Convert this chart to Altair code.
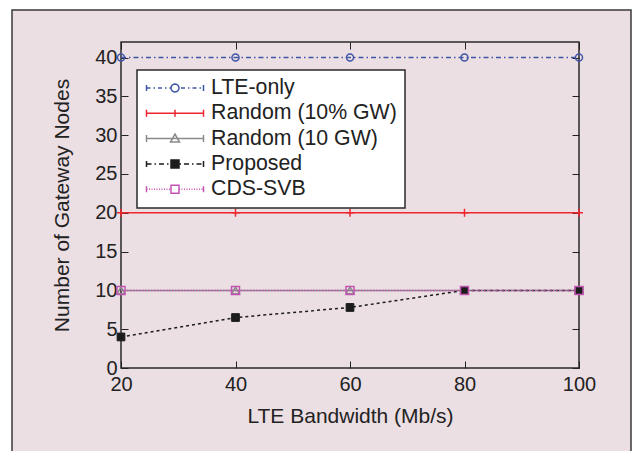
import altair as alt
import pandas as pd
import math

# ---------------- data ----------------
bandwidth = [20, 40, 60, 80, 100]
series_names = ["LTE-only", "Random (10% GW)", "Random (10 GW)", "Proposed", "CDS-SVB"]
lte_only = [40, 40, 40, 40, 40]
random_pct = [20, 20, 20, 20, 20]
random_10 = [10, 10, 10, 10, 10]
proposed = [4, 6.5, 7.8, 10, 10]
cds_svb = [10, 10, 10, 10, 10]
y_ticks = [0, 5, 10, 15, 20, 25, 30, 35, 40]

values_by_series = [lte_only, random_pct, random_10, proposed, cds_svb]
rows = []
for name, vals in zip(series_names, values_by_series):
    for xv, yv in zip(bandwidth, vals):
        rows.append({"bw": xv, "nodes": yv, "series": name})
df = pd.DataFrame(rows)

# ---------------- styles ----------------
colors = ["#3f56a8", "#ee2630", "#8a8a8a", "#1c1c1c", "#c454b4"]
dashes = [[5, 3, 1.5, 3], [1, 0], [1, 0], [3, 3], [1.5, 1.5]]
FONT = "Liberation Sans"
TXT = "#222222"

PLUS = "M-1,0H1M0,-1V1"
marker_shapes = ["circle", PLUS, "triangle-up", "square", "square"]
marker_sizes = [50, 64, 60, 60, 64]
marker_filled = [False, False, False, True, False]

# legend glyphs (line sample + marker), in symbol units
U = 29.0


def f(v):
    return f"{v / U:.4f}"


def seg(x1, x2, y=0.0):
    return f"M{f(x1)},{f(y)}H{f(x2)}"


def caps(h=3.5):
    return f"M{f(-28.5)},{f(-h)}V{f(h)}M{f(28.5)},{f(-h)}V{f(h)}"


def dashed(pattern, skip=4.5):
    out = []
    x = -28.5
    i = 0
    on = True
    while x < 28.5:
        L = pattern[i % len(pattern)]
        x2 = min(x + L, 28.5)
        if on:
            a, b = x, x2
            if b > -skip and a < skip:
                if a < -skip:
                    out.append(seg(a, -skip))
                if b > skip:
                    out.append(seg(skip, b))
            else:
                out.append(seg(a, b))
        x = x2
        on = not on
        i += 1
    return "".join(out)


def poly(points):
    return "M" + "L".join(f"{f(px)},{f(py)}" for px, py in points) + "Z"


circle_pts = [(4 * math.cos(2 * math.pi * k / 20), 4 * math.sin(2 * math.pi * k / 20)) for k in range(20)]
tri_pts = [(0, -4.5), (4.5, 3.5), (-4.5, 3.5)]
sq_pts = [(-4, -4), (4, -4), (4, 4), (-4, 4)]
hatch = "".join(seg(-4, 4, yy) for yy in [-3.5, -2.5, -1.5, -0.5, 0.5, 1.5, 2.5, 3.5])

legend_paths = [
    dashed([4, 3, 1.5, 3]) + caps(3) + poly(circle_pts),
    seg(-28.5, 28.5) + caps() + f"M0,{f(-3.5)}V{f(3.5)}",
    seg(-28.5, 28.5) + caps() + poly(tri_pts),
    dashed([5, 3, 1.5, 3]) + caps(3) + poly(sq_pts) + hatch,
    dashed([1, 1.5]) + caps(3) + poly(sq_pts),
]

# ---------------- scales / axes ----------------
xscale = alt.Scale(domain=[20, 100], nice=False, zero=False)
yscale = alt.Scale(domain=[0, 42], nice=False, zero=False)

common_axis = dict(domain=False, grid=False, tickSize=7, offset=-7, tickColor=TXT,
                   tickWidth=1, labelFont=FONT, labelFontSize=20, labelColor=TXT,
                   titleFont=FONT, titleFontSize=21, titleColor=TXT, titleFontWeight="normal",
                   labelFlush=False, labelOverlap=False)

x_bottom = alt.Axis(orient="bottom", values=bandwidth, title="LTE Bandwidth (Mb/s)",
                    labelPadding=6, titlePadding=11, **common_axis)
y_left = alt.Axis(orient="left", values=y_ticks, title="Number of Gateway Nodes",
                  labelPadding=4, titlePadding=22, **common_axis)
x_top = alt.Axis(orient="top", values=bandwidth, title=None, labels=False, **common_axis)
y_right = alt.Axis(orient="right", values=y_ticks, title=None, labels=False, **common_axis)

base = alt.Chart(df)
layers = []

# decorative page frame (outside plot area)
frame_data = alt.Data(values=[{"k": 1}])
layers.append(alt.Chart(frame_data).mark_rect(fill="white", stroke=None).encode(
    x=alt.value(-121), x2=alt.value(514), y=alt.value(-42), y2=alt.value(-32)))
layers.append(alt.Chart(frame_data).mark_rect(fill="white", stroke=None).encode(
    x=alt.value(-121), x2=alt.value(-109), y=alt.value(-42), y2=alt.value(420)))
layers.append(alt.Chart(frame_data).mark_rect(fill="white", stroke=None).encode(
    x=alt.value(510), x2=alt.value(514), y=alt.value(-42), y2=alt.value(420)))
layers.append(alt.Chart(frame_data).mark_rect(fill=None, stroke="#3a3a3a", strokeWidth=1.5).encode(
    x=alt.value(-109), x2=alt.value(510), y=alt.value(-32), y2=alt.value(470)))

for i, name in enumerate(series_names):
    sub = base.transform_filter(alt.datum.series == name)
    xa = x_bottom if i == 0 else None
    ya = y_left if i == 0 else None
    line = sub.mark_line(color=colors[i], strokeDash=dashes[i], strokeWidth=1.5).encode(
        x=alt.X("bw:Q", scale=xscale, axis=xa),
        y=alt.Y("nodes:Q", scale=yscale, axis=ya),
    )
    layers.append(line)

for i, name in enumerate(series_names):
    sub = base.transform_filter(alt.datum.series == name)
    xa = x_top if i == 0 else None
    ya = y_right if i == 0 else None
    if marker_filled[i]:
        mk = sub.mark_point(shape=marker_shapes[i], size=marker_sizes[i], filled=True,
                            fill=colors[i], stroke=colors[i], strokeWidth=1, opacity=1)
    else:
        mk = sub.mark_point(shape=marker_shapes[i], size=marker_sizes[i], filled=False,
                            stroke=colors[i], strokeWidth=1.5, opacity=1)
    layers.append(mk.encode(
        x=alt.X("bw:Q", scale=xscale, axis=xa),
        y=alt.Y("nodes:Q", scale=yscale, axis=ya),
    ))

# legend carrier (draws nothing in the plot)
legend_spec = alt.Legend(orient="none", legendX=16, legendY=28, title=None,
                         fillColor="white", strokeColor="#2a2a2a", padding=8,
                         symbolSize=3364, symbolStrokeWidth=1.5, clipHeight=20,
                         rowPadding=3.3, labelOffset=6, labelFont=FONT, labelLimit=400,
                         labelFontSize=21.3, labelColor=TXT)
legend_layer = base.transform_filter("false").mark_point(filled=False, opacity=1).encode(
    color=alt.Color("series:N", scale=alt.Scale(domain=series_names, range=colors),
                    legend=legend_spec),
    shape=alt.Shape("series:N", scale=alt.Scale(domain=series_names, range=legend_paths),
                    legend=legend_spec),
)
layers.append(legend_layer)

chart = alt.layer(*layers).resolve_axis(x="independent", y="independent").properties(
    width=458, height=326,
    autosize=alt.AutoSizeParams(type="none"),
    padding={"left": 121, "top": 42, "right": 56, "bottom": 83},
    background="#ecdfe3",
).configure_view(fill="#faf9f4", stroke="#2a2a2a", strokeWidth=1.5).configure_legend(
    strokeWidth=1.5
)

chart.save("out.html", embed_options={"renderer": "svg", "actions": False})
